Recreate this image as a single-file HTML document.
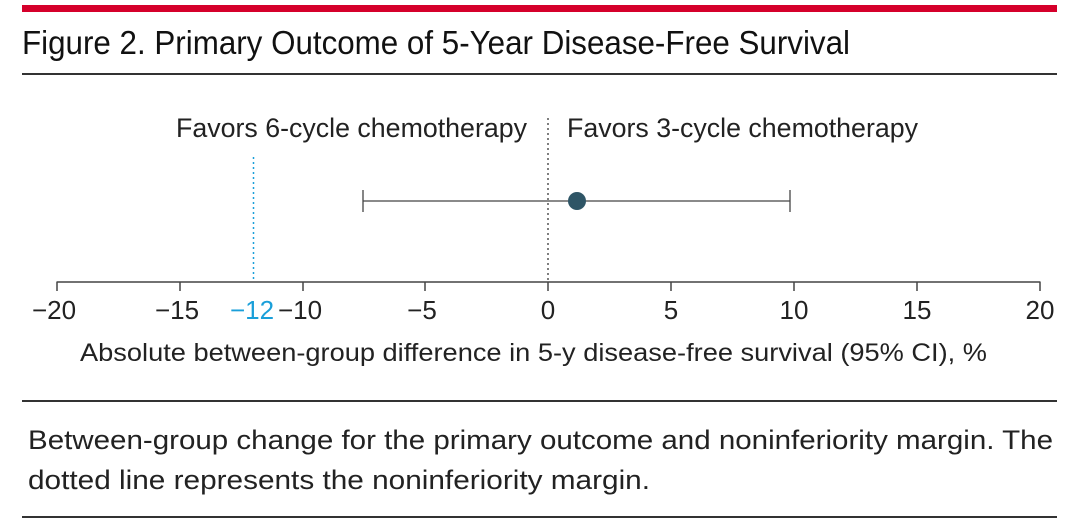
<!DOCTYPE html>
<html><head><meta charset="utf-8"><style>
html,body{margin:0;padding:0;background:#fff;}
svg{display:block;font-family:"Liberation Sans",sans-serif;}
</style></head><body>
<svg width="1072" height="531" viewBox="0 0 1072 531">
<rect x="22" y="5" width="1035" height="7" fill="#d5002b"/>
<text x="22" y="54" font-size="33" fill="#111" textLength="828" lengthAdjust="spacingAndGlyphs">Figure 2. Primary Outcome of 5-Year Disease-Free Survival</text>
<rect x="22" y="73" width="1035" height="2" fill="#333"/>
<text x="176" y="137" font-size="27" fill="#222" textLength="351" lengthAdjust="spacingAndGlyphs">Favors 6-cycle chemotherapy</text>
<text x="567" y="137" font-size="27" fill="#222" textLength="351" lengthAdjust="spacingAndGlyphs">Favors 3-cycle chemotherapy</text>
<line x1="548" y1="118" x2="548" y2="282" stroke="#555" stroke-width="1.5" stroke-dasharray="2,3"/>
<line x1="253.5" y1="157" x2="253.5" y2="282" stroke="#1a9fd9" stroke-width="1.5" stroke-dasharray="2,3"/>
<line x1="363" y1="201" x2="790" y2="201" stroke="#444" stroke-width="1.3"/>
<line x1="363" y1="190" x2="363" y2="212" stroke="#444" stroke-width="1.3"/>
<line x1="790" y1="190" x2="790" y2="212" stroke="#444" stroke-width="1.3"/>
<circle cx="577" cy="201" r="9" fill="#2e5566"/>
<line x1="56.5" y1="282" x2="1040.5" y2="282" stroke="#444" stroke-width="1.5"/>
<g stroke="#444" stroke-width="1.5">
<line x1="57" y1="282" x2="57" y2="291"/><line x1="180" y1="282" x2="180" y2="291"/><line x1="303" y1="282" x2="303" y2="291"/><line x1="425" y1="282" x2="425" y2="291"/><line x1="548" y1="282" x2="548" y2="291"/><line x1="671" y1="282" x2="671" y2="291"/><line x1="794" y1="282" x2="794" y2="291"/><line x1="917" y1="282" x2="917" y2="291"/><line x1="1040" y1="282" x2="1040" y2="291"/>
</g>
<g font-size="26" fill="#222" text-anchor="middle">
<text x="54" y="319">−20</text><text x="177" y="319">−15</text><text x="300" y="319">−10</text><text x="422" y="319">−5</text><text x="548" y="319">0</text><text x="671" y="319">5</text><text x="794" y="319">10</text><text x="917" y="319">15</text><text x="1040" y="319">20</text>
<text x="252" y="319" fill="#1a9fd9">−12</text>
</g>
<text x="80" y="361" font-size="25" fill="#222" textLength="907" lengthAdjust="spacingAndGlyphs">Absolute between-group difference in 5-y disease-free survival (95% CI), %</text>
<rect x="22" y="400" width="1035" height="2" fill="#333"/>
<text x="28" y="449" font-size="27" fill="#222" textLength="1025" lengthAdjust="spacingAndGlyphs">Between-group change for the primary outcome and noninferiority margin. The</text>
<text x="28" y="489" font-size="27" fill="#222" textLength="622" lengthAdjust="spacingAndGlyphs">dotted line represents the noninferiority margin.</text>
<rect x="22" y="516" width="1035" height="2" fill="#333"/>
</svg>
</body></html>
